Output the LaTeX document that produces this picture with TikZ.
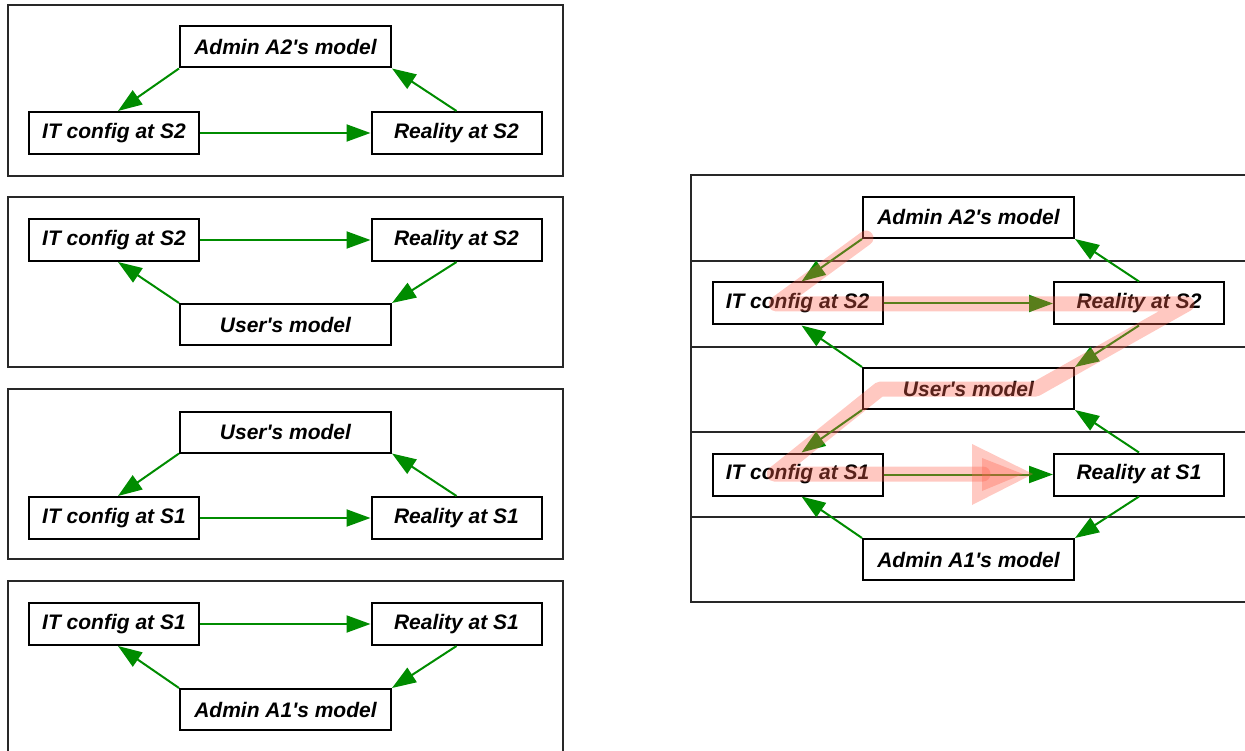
\documentclass[tikz,border=0pt]{standalone}
\usepackage{fontspec}
\setmainfont{Liberation Sans}[Ligatures=TeXOff]
\usetikzlibrary{arrows.meta}
\definecolor{arrgreen}{RGB}{0,140,0}
\definecolor{hilite}{RGB}{255,100,80}
\definecolor{framegray}{RGB}{40,40,40}
\tikzset{
  box/.style={draw=black, line width=2pt, fill=white, inner sep=0pt,
    font=\fontsize{21}{24}\selectfont\bfseries\itshape},
  smallbox/.style={box, minimum width=170pt, minimum height=42pt},
  bigbox/.style={box, minimum width=211pt, minimum height=41pt},
  flow/.style={draw=arrgreen, line width=2pt, -{Triangle[length=24pt,width=17pt]}},
  panel/.style={draw=framegray, line width=1.4pt},
  hl/.style={draw=hilite, draw opacity=0.35, line width=15pt, line cap=round, line join=round},
  hlhead/.style={fill=hilite, fill opacity=0.35, draw=none}
}
\begin{document}
\begin{tikzpicture}[x=1pt,y=-1pt]
\useasboundingbox (0,0) rectangle (1245,751);
% ---------- left panels ----------
\draw[panel] (8,5) rectangle (563,176);
\draw[panel] (8,197) rectangle (563,367);
\draw[panel] (8,389) rectangle (563,559);
\draw[panel] (8,581) rectangle (563,753);
% panel 1
\node[bigbox] (aA) at (285.5,47) {Admin A2's model};
\node[smallbox] (aI) at (114,133) {IT config at S2};
\node[smallbox] (aR) at (456.5,133) {Reality at S2};
\draw[flow] (aA.south west) -- ([xshift=4pt]aI.north);
\draw[flow] (aI.east) -- (aR.west);
\draw[flow] (aR.north) -- (aA.south east);
% panel 2
\node[smallbox] (bI) at (114,240) {IT config at S2};
\node[smallbox] (bR) at (456.5,240) {Reality at S2};
\node[bigbox] (bU) at (285.5,324.5) {User's model};
\draw[flow] (bI.east) -- (bR.west);
\draw[flow] (bR.south) -- (bU.north east);
\draw[flow] (bU.north west) -- ([xshift=4pt]bI.south);
% panel 3
\node[bigbox] (cU) at (285.5,432) {User's model};
\node[smallbox] (cI) at (114,518) {IT config at S1};
\node[smallbox] (cR) at (456.5,518) {Reality at S1};
\draw[flow] (cU.south west) -- ([xshift=4pt]cI.north);
\draw[flow] (cI.east) -- (cR.west);
\draw[flow] (cR.north) -- (cU.south east);
% panel 4
\node[smallbox] (dI) at (114,624) {IT config at S1};
\node[smallbox] (dR) at (456.5,624) {Reality at S1};
\node[bigbox] (dA) at (285.5,709.5) {Admin A1's model};
\draw[flow] (dI.east) -- (dR.west);
\draw[flow] (dR.south) -- (dA.north east);
\draw[flow] (dA.north west) -- ([xshift=4pt]dI.south);
% ---------- right diagram ----------
\draw[panel] (1260,175) -- (691,175) -- (691,602) -- (1260,602);
\draw[panel] (691,261) -- (1260,261);
\draw[panel] (691,347) -- (1260,347);
\draw[panel] (691,432) -- (1260,432);
\draw[panel] (691,517) -- (1260,517);
\node[bigbox] (rA2) at (968.5,217.5) {Admin A2's model};
\node[smallbox] (rI2) at (797.5,303.5) {IT config at S2};
\node[smallbox] (rR2) at (1139,303.5) {Reality at S2};
\node[bigbox] (rU) at (968.5,388.5) {User's model};
\node[smallbox] (rI1) at (797.5,474.5) {IT config at S1};
\node[smallbox] (rR1) at (1139,474.5) {Reality at S1};
\node[bigbox] (rA1) at (968.5,559.5) {Admin A1's model};
\draw[flow] (rA2.south west) -- ([xshift=4pt]rI2.north);
\draw[flow] (rR2.north) -- (rA2.south east);
\draw[flow] (rI2.east) -- (rR2.west);
\draw[flow] (rR2.south) -- (rU.north east);
\draw[flow] (rU.north west) -- ([xshift=4pt]rI2.south);
\draw[flow] (rU.south west) -- ([xshift=4pt]rI1.north);
\draw[flow] (rR1.north) -- (rU.south east);
\draw[flow] (rI1.east) -- (rR1.west);
\draw[flow] (rR1.south) -- (rA1.north east);
\draw[flow] (rA1.north west) -- ([xshift=4pt]rI1.south);
% ---------- highlighted path ----------
\coordinate (h1) at (866,238);
\coordinate (h2) at (776,304);
\coordinate (h3) at (1187,304);
\coordinate (h4) at (1036,389);
\coordinate (h5) at (880,389);
\coordinate (h6) at (774,474);
\coordinate (h7) at (983,474);
\draw[hl] (h1) -- (h2) -- (h3) -- (h4) -- (h5) -- (h6) -- (h7);
\fill[hlhead] (972,444) -- (1033,474) -- (972,505) -- cycle;
\fill[hlhead] (982,458) -- (1023,474) -- (982,491) -- cycle;
\end{tikzpicture}
\end{document}
